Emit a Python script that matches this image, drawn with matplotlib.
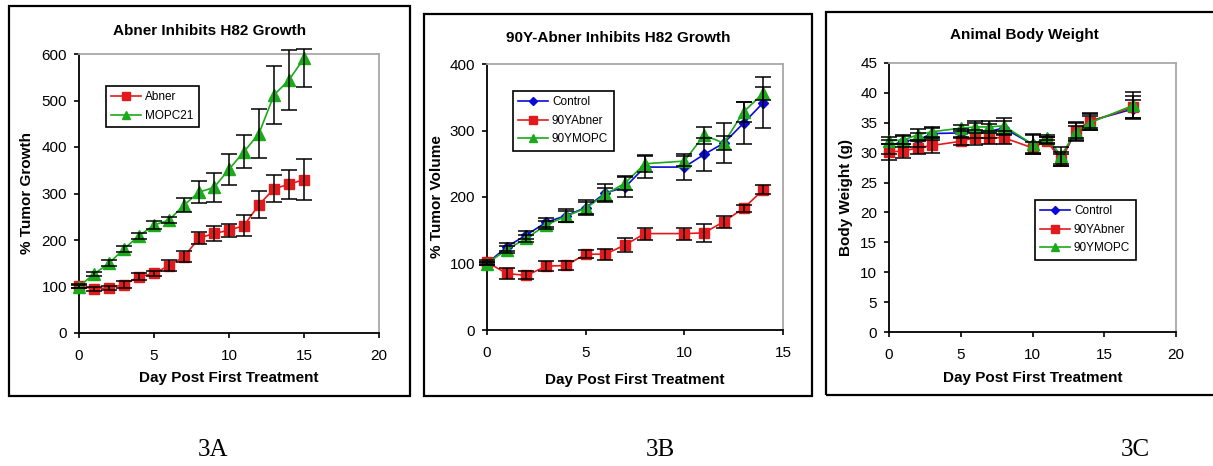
import numpy as np
import matplotlib
matplotlib.use("Agg")
import matplotlib.pyplot as plt
from matplotlib.patches import Rectangle

plt.rcParams["font.family"] = ["Liberation Sans", "DejaVu Sans"]

W, H = 1213, 466

# ── Data ──────────────────────────────────────────────────────────────────────
# 3A: % tumor growth
days_a = [0, 1, 2, 3, 4, 5, 6, 7, 8, 9, 10, 11, 12, 13, 14, 15]
abner_a = [101, 95, 97, 104, 121, 128, 145, 164, 204, 214, 221, 231, 276, 310, 320, 330]
abner_a_err = [4, 5, 5, 8, 8, 6, 12, 12, 13, 17, 14, 22, 29, 29, 31, 45]
mopc_a = [100, 127, 150, 181, 209, 232, 243, 275, 303, 313, 352, 390, 429, 512, 544, 591]
mopc_a_err = [3, 5, 6, 6, 6, 8, 6, 15, 24, 32, 33, 36, 53, 62, 65, 62]

# 3B: % tumor volume
days_b = [0, 1, 2, 3, 4, 5, 6, 7, 8, 10, 11, 12, 13, 14]
control_b = [100, 125, 143, 162, 172, 184, 206, 215, 245, 245, 264, 281, 311, 342]
control_b_err = [2, 6, 6, 7, 10, 11, 14, 15, 17, 20, 25, 30, 32, 38]
abner_b = [102, 85, 82, 96, 97, 114, 114, 128, 145, 145, 146, 163, 183, 211]
abner_b_err = [3, 8, 6, 8, 7, 6, 8, 11, 9, 9, 13, 9, 5, 7]
mopc_b = [100, 121, 138, 158, 171, 183, 204, 221, 250, 254, 293, 281, 328, 356]
mopc_b_err = [2, 5, 5, 6, 8, 9, 10, 10, 13, 7, 13, 10, 15, 10]

# 3C: body weight (g)
days_c = [0, 1, 2, 3, 5, 6, 7, 8, 10, 11, 12, 13, 14, 17]
control_c = [31.0, 32.0, 32.1, 33.2, 33.3, 33.7, 33.6, 34.1, 31.4, 32.2, 28.9, 33.5, 35.3, 37.3]
control_c_err = [1.2, 1.0, 1.2, 1.0, 0.6, 1.2, 1.2, 1.2, 1.5, 0.5, 1.2, 1.5, 1.2, 1.5]
abner_c = [30.1, 30.3, 30.8, 31.2, 31.9, 32.5, 32.5, 32.5, 30.8, 32.0, 28.7, 33.7, 35.2, 37.6]
abner_c_err = [1.4, 1.2, 1.1, 1.2, 0.6, 1.3, 1.1, 1.1, 1.0, 0.6, 1.0, 1.5, 1.4, 1.8]
mopc_c = [32.0, 32.1, 33.0, 33.5, 34.1, 34.3, 34.3, 34.5, 31.4, 32.5, 29.5, 33.5, 35.0, 37.9]
mopc_c_err = [0.6, 0.7, 0.9, 0.8, 0.5, 1.0, 1.0, 1.3, 1.7, 0.4, 1.4, 1.0, 1.2, 2.3]

RED = "#e31a1c"
GREEN = "#1aaa1a"
BLUE = "#0a0ad8"


def px_axes(fig, x0, y0, x1, y1):
    return fig.add_axes([x0 / W, 1 - y1 / H, (x1 - x0) / W, (y1 - y0) / H])


def frame(fig, x0, y0, x1, y1):
    fig.patches.append(Rectangle((x0 / W, 1 - y1 / H), (x1 - x0) / W,
                                 (y1 - y0) / H, transform=fig.transFigure,
                                 fill=False, edgecolor="black", lw=1.6))


def style_axes(ax, xlim, xticks, ylim, yticks):
    ax.set_xlim(*xlim)
    ax.set_ylim(*ylim)
    ax.set_xticks(xticks)
    ax.set_yticks(yticks)
    for s in ("top", "right"):
        ax.spines[s].set_color("#a8a8a8")
        ax.spines[s].set_linewidth(1.3)
    for s in ("left", "bottom"):
        ax.spines[s].set_color("black")
        ax.spines[s].set_linewidth(1.3)
    ax.tick_params(direction="out", length=3.5, width=1.2, labelsize=11)
    ax.tick_params(axis="x", pad=8)
    ax.tick_params(axis="y", pad=5)


def series(ax, x, y, err, color, marker, ms, label, top=None):
    ax.plot(x, y, color=color, lw=1.2, marker=marker, ms=ms,
            mec=color, mfc=color, label=label, zorder=3, clip_on=False)
    y = np.array(y, dtype=float)
    err = np.array(err, dtype=float)
    upper = err if top is None else np.minimum(err, top - y)
    ax.errorbar(x, y, yerr=[err, upper], fmt="none", ecolor="black",
                elinewidth=1.1, capsize=6, capthick=1.1, zorder=4,
                clip_on=False)


def legend(ax, anchor):
    leg = ax.legend(loc="upper left", bbox_to_anchor=anchor,
                    borderaxespad=0, fontsize=8.5, numpoints=1,
                    handlelength=2.5, labelspacing=0.55, fancybox=False,
                    framealpha=1, borderpad=0.45, handletextpad=0.35,
                    markerscale=0.8)
    leg.get_frame().set_edgecolor("black")
    leg.get_frame().set_linewidth(1.2)


fig = plt.figure(figsize=(W / 100, H / 100), dpi=100)

# ── 3A ────────────────────────────────────────────────────────────────────────
frame(fig, 9, 6, 410, 396)
ax = px_axes(fig, 79, 54, 379, 333)
style_axes(ax, (0, 20), range(0, 21, 5), (0, 600), range(0, 601, 100))
series(ax, days_a, abner_a, abner_a_err, RED, "s", 6.5, "Abner")
series(ax, days_a, mopc_a, mopc_a_err, GREEN, "^", 8, "MOPC21", top=610)
ax.set_xlabel("Day Post First Treatment", fontsize=11, fontweight="bold")
ax.set_ylabel("% Tumor Growth", fontsize=11, fontweight="bold")
ax.xaxis.set_label_coords(0.5, -(371 - 333) / 279)
ax.yaxis.set_label_coords(-(79 - 34) / 300, 0.5)
legend(ax, ((106 - 79) / 300, 1 - (86 - 54) / 279))
fig.text(209.5 / W, 1 - 31 / H, "Abner Inhibits H82 Growth", ha="center",
         va="center", fontsize=11, fontweight="bold")

# ── 3B ────────────────────────────────────────────────────────────────────────
frame(fig, 424, 14, 812, 396)
ax = px_axes(fig, 487, 64, 783, 330)
style_axes(ax, (0, 15), range(0, 16, 5), (0, 400), range(0, 401, 100))
series(ax, days_b, control_b, control_b_err, BLUE, "D", 5.5, "Control")
series(ax, days_b, abner_b, abner_b_err, RED, "s", 6.5, "90YAbner")
series(ax, days_b, mopc_b, mopc_b_err, GREEN, "^", 8, "90YMOPC")
ax.set_xlabel("Day Post First Treatment", fontsize=11, fontweight="bold")
ax.set_ylabel("% Tumor Volume", fontsize=11, fontweight="bold")
ax.xaxis.set_label_coords(0.5, -(373 - 330) / 266)
ax.yaxis.set_label_coords(-(487 - 444) / 296, 0.5)
legend(ax, ((513 - 487) / 296, 1 - (91 - 64) / 266))
fig.text(618 / W, 1 - 38 / H, "90Y-Abner Inhibits H82 Growth", ha="center",
         va="center", fontsize=11, fontweight="bold")

# ── 3C ────────────────────────────────────────────────────────────────────────
frame(fig, 826, 12, 1222, 395)
ax = px_axes(fig, 889, 63, 1176, 332)
style_axes(ax, (0, 20), range(0, 21, 5), (0, 45), range(0, 46, 5))
series(ax, days_c, control_c, control_c_err, BLUE, "D", 5.5, "Control")
series(ax, days_c, abner_c, abner_c_err, RED, "s", 6.5, "90YAbner")
series(ax, days_c, mopc_c, mopc_c_err, GREEN, "^", 8, "90YMOPC")
ax.set_xlabel("Day Post First Treatment", fontsize=11, fontweight="bold")
ax.set_ylabel("Body Weight (g)", fontsize=11, fontweight="bold")
ax.xaxis.set_label_coords(0.5, -(371 - 332) / 269)
ax.yaxis.set_label_coords(-(889 - 853) / 287, 0.5)
legend(ax, ((1035 - 889) / 287, 1 - (200 - 63) / 269))
fig.text(1024 / W, 1 - 35 / H, "Animal Body Weight", ha="center",
         va="center", fontsize=11, fontweight="bold")

# ── panel captions ────────────────────────────────────────────────────────────
for xc, lab in [(213, "3A"), (660, "3B"), (1135, "3C")]:
    fig.text(xc / W, 1 - 450 / H, lab, ha="center", va="center",
             fontsize=18, family="Liberation Serif")

fig.savefig("out.png", dpi=100)
